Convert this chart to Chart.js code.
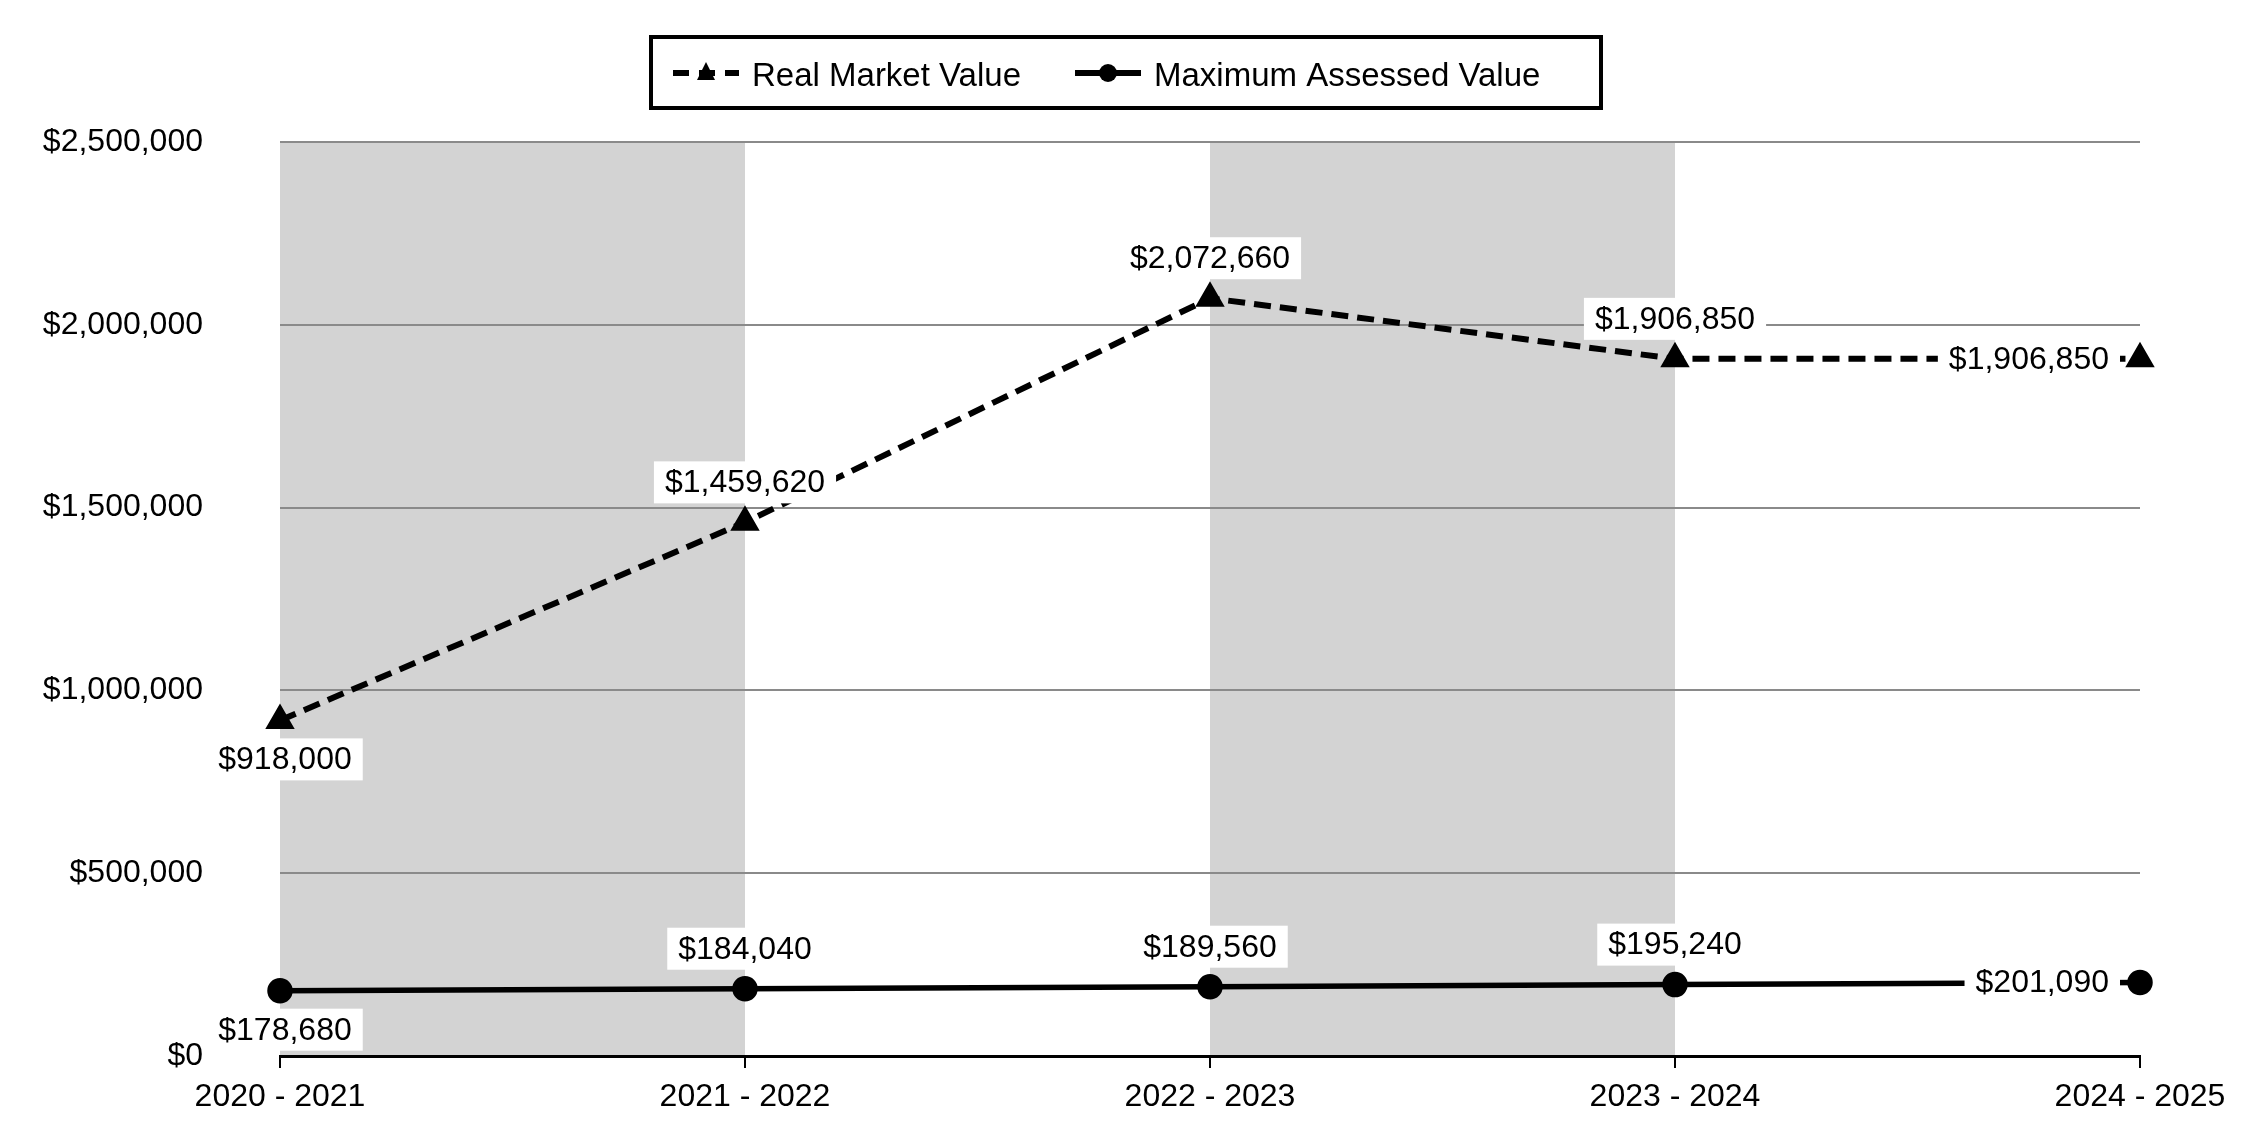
<!DOCTYPE html>
<html>
<head>
<meta charset="utf-8">
<title>Real Market Value / Maximum Assessed Value</title>
<script src="https://cdn.jsdelivr.net/npm/chart.js@4.4.1/dist/chart.umd.min.js"></script>
<style>
  html, body { margin: 0; padding: 0; background: #fff; }
  #wrap { width: 2250px; height: 1140px; }
</style>
</head>
<body>
<div id="wrap"><canvas id="values"></canvas></div>
<script>
const categories = ['2020 - 2021', '2021 - 2022', '2022 - 2023', '2023 - 2024', '2024 - 2025'];
const realMarketValue = [918000, 1459620, 2072660, 1906850, 1906850];
const maxAssessedValue = [178680, 184040, 189560, 195240, 201090];
const yTickValues = [0, 500000, 1000000, 1500000, 2000000, 2500000];
const seriesNames = ['Real Market Value', 'Maximum Assessed Value'];
// shaded year columns, as [from, to] category indexes
const shadedColumns = [[0, 1], [2, 3]];

const FONT = '"Liberation Sans", Arial, sans-serif';
const money = v => '$' + Number(v).toLocaleString('en-US');

// grey columns behind the grid
const columns = {
  id: 'columns',
  beforeDraw(chart) {
    const { ctx, chartArea: a, scales: { x } } = chart;
    ctx.save();
    ctx.fillStyle = '#d3d3d3';
    shadedColumns.forEach(([from, to]) => {
      const l = x.getPixelForValue(from), r = x.getPixelForValue(to);
      ctx.fillRect(l, a.top, r - l, a.bottom - a.top);
    });
    ctx.restore();
  }
};

// value labels in white boxes: first below, last to the left, rest above
const valueLabels = {
  id: 'valueLabels',
  afterDatasetsDraw(chart) {
    const ctx = chart.ctx;
    ctx.save();
    ctx.font = '32px ' + FONT;
    ctx.textBaseline = 'middle';
    ctx.textAlign = 'center';
    chart.data.datasets.forEach((ds, i) => {
      const pts = chart.getDatasetMeta(i).data;
      pts.forEach((p, j) => {
        const text = money(ds.data[j]);
        const w = ctx.measureText(text).width;
        let cx = p.x, cy = p.y;
        if (j === 0) { cx += 5; cy += 39; }
        else if (j === pts.length - 1) cx = p.x - 31 - w / 2;
        else cy -= 40;
        ctx.fillStyle = '#fff';
        ctx.fillRect(cx - w / 2 - 11, cy - 21, w + 22, 42);
        ctx.fillStyle = '#000';
        ctx.fillText(text, cx, cy + 1);
      });
    });
    ctx.restore();
  }
};

// boxed legend with line samples
const boxLegend = {
  id: 'boxLegend',
  afterDraw(chart) {
    const ctx = chart.ctx;
    const left = 651, top = 37, width = 950, height = 71;
    const midY = 73;
    ctx.save();
    ctx.strokeStyle = '#000';
    ctx.lineWidth = 4;
    ctx.strokeRect(left, top, width, height);
    ctx.font = '33px ' + FONT;
    ctx.textBaseline = 'alphabetic';
    ctx.textAlign = 'left';
    ctx.fillStyle = '#000';

    let x = left + 22;
    chart.data.datasets.forEach((ds, i) => {
      ctx.lineWidth = 6;
      ctx.strokeStyle = '#000';
      ctx.setLineDash(ds.borderDash && ds.borderDash.length ? [16, 10] : []);
      ctx.beginPath();
      ctx.moveTo(x, midY);
      ctx.lineTo(x + 66, midY);
      ctx.stroke();
      ctx.setLineDash([]);
      const cx = x + 33;
      ctx.beginPath();
      if (ds.pointStyle === 'triangle') {
        ctx.moveTo(cx, midY - 11);
        ctx.lineTo(cx + 9, midY + 7);
        ctx.lineTo(cx - 9, midY + 7);
        ctx.closePath();
      } else {
        ctx.arc(cx, midY, 9, 0, Math.PI * 2);
      }
      ctx.fill();
      x += 66 + 13;
      ctx.fillText(ds.label, x, midY + 13);
      x += ctx.measureText(ds.label).width + 54;
    });
    ctx.restore();
  }
};

new Chart(document.getElementById('values'), {
  type: 'line',
  data: {
    labels: categories,
    datasets: [
      {
        label: seriesNames[0],
        data: realMarketValue,
        borderColor: '#000',
        backgroundColor: '#000',
        borderWidth: 6,
        borderDash: [17, 9],
        pointStyle: 'triangle',
        pointRadius: 11,
        pointBackgroundColor: '#000',
        pointBorderColor: '#000',
        tension: 0,
        clip: false
      },
      {
        label: seriesNames[1],
        data: maxAssessedValue,
        borderColor: '#000',
        backgroundColor: '#000',
        borderWidth: 5.5,
        pointStyle: 'circle',
        pointRadius: 10,
        pointBackgroundColor: '#000',
        pointBorderColor: '#000',
        tension: 0,
        clip: false
      }
    ]
  },
  options: {
    responsive: true,
    maintainAspectRatio: false,
    devicePixelRatio: 1,
    animation: false,
    layout: { padding: { top: 142, right: 110, left: 0, bottom: 0 } },
    plugins: {
      legend: { display: false },
      tooltip: { enabled: false }
    },
    scales: {
      x: {
        grid: { drawOnChartArea: false, color: '#000', lineWidth: 2, tickLength: 12 },
        border: { color: '#000', width: 3 },
        ticks: { color: '#000', font: { family: FONT, size: 32 }, padding: 10, maxRotation: 0, autoSkip: false },
        afterFit: s => { s.height = 84; }
      },
      y: {
        min: 0,
        max: 2500000,
        afterBuildTicks: s => { s.ticks = yTickValues.map(v => ({ value: v })); },
        grid: { color: '#8a8a8a', lineWidth: 2, drawTicks: false },
        border: { display: false },
        ticks: { color: '#000', font: { family: FONT, size: 32 }, padding: 77, callback: v => money(v) },
        // the big label padding would otherwise also pad the plot top/bottom
        afterFit: s => { s.width = 280; s.paddingTop = 20; s.paddingBottom = 20; }
      }
    }
  },
  plugins: [columns, valueLabels, boxLegend]
});
</script>
</body>
</html>
